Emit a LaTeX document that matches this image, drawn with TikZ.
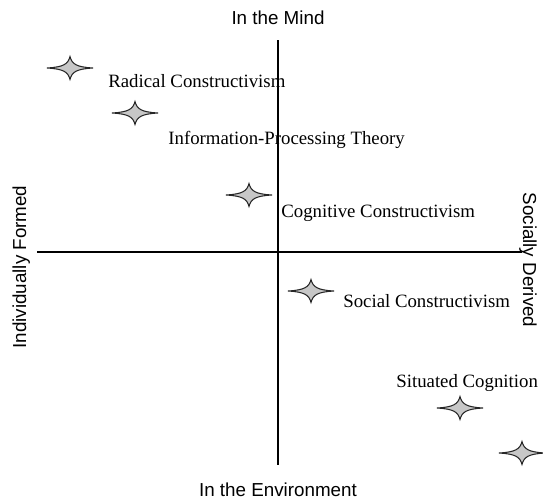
\documentclass[tikz,border=0pt]{standalone}
\usepackage{fontspec}
\setmainfont{Liberation Serif}
\setsansfont{Liberation Sans}
\usetikzlibrary{calc}
\tikzset{
	axislabel/.style={font=\sffamily\fontsize{10.7}{12}\selectfont,inner sep=0pt},
	theory/.style={font=\fontsize{10.7}{12}\selectfont,inner sep=0pt,anchor=base west},
	starfill/.style={fill=black!22,draw=black!85,line width=0.6pt},
	fourstar/.pic={
		\filldraw[starfill] (-23,0) .. controls (-6,-1) and (-2,-4) .. (0,-11.5)
			.. controls (2,-4) and (6,-1) .. (23,0)
			.. controls (6,1) and (2,4) .. (0,11.5)
			.. controls (-2,4) and (-6,1) .. (-23,0) -- cycle;
	}
}

\begin{document}
\begin{tikzpicture}[x=0.02cm,y=-0.02cm]
					\useasboundingbox (0,0) rectangle (543,498);
					%AXES
					\coordinate (W) at (37,252);
					\coordinate (E) at (522,252);
					\coordinate (N) at (278,40);
					\coordinate (S) at (278,465);
					\draw[line width=0.6pt] (W) -- (E);
					\draw[line width=0.6pt] (N) -- (S);
					\node[axislabel,anchor=base] (mind) at (278,24) {In the Mind};
					\node[axislabel,anchor=base] (env) at (278,496) {In the Environment};
					\node[axislabel,anchor=base,rotate=90] (indiv) at (26,267) {Individually Formed};
					\node[axislabel,anchor=base,rotate=-90] (social) at (523,260) {Socially Derived};
					%THEORIES
					\coordinate (rc) at (70,68);
					\coordinate (ipt) at (135,113);
					\coordinate (cc) at (249,195);
					\coordinate (sc) at (311,291);
					\coordinate (sit) at (460,408);
					\coordinate (extra) at (522,453);
					\foreach \p in {rc,ipt,cc,sc,sit,extra}
						\pic at (\p) {fourstar};
					\node[theory] (rclabel) at (108,87) {Radical Constructivism};
					\node[theory] (iptlabel) at (168,144) {Information-Processing Theory};
					\node[theory] (cclabel) at (281,217) {Cognitive Constructivism};
					\node[theory] (sclabel) at (343,307) {Social Constructivism};
					\node[theory] (sitlabel) at (396,387) {Situated Cognition};
\end{tikzpicture}
\end{document}
